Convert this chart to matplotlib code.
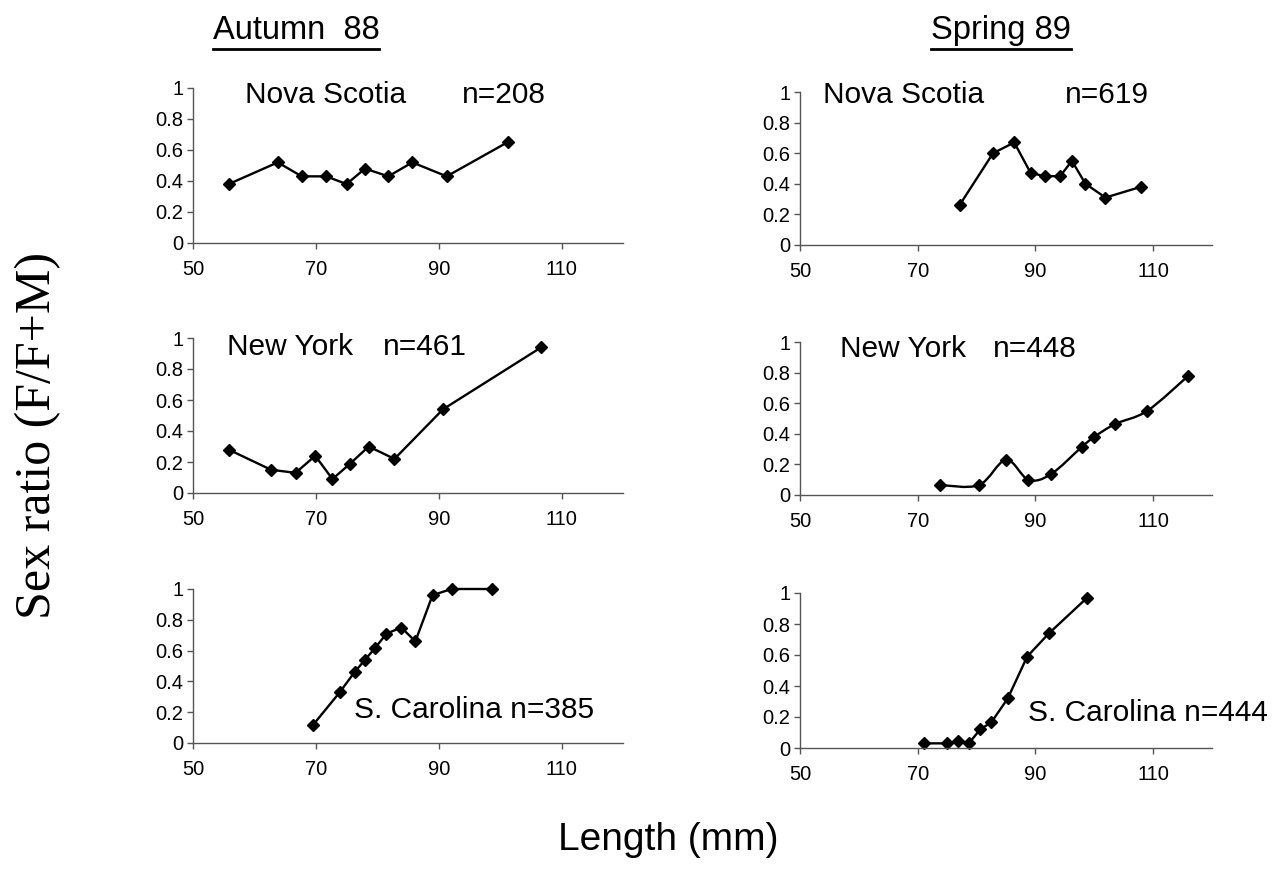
import matplotlib
matplotlib.use("Agg")
import matplotlib.pyplot as plt
from matplotlib.path import Path
from matplotlib.patches import PathPatch
from matplotlib.lines import Line2D
from matplotlib.ticker import FuncFormatter

plt.rcParams['font.family'] = ['Liberation Sans', 'DejaVu Sans']

# length (mm) and sex ratio F/(F+M) per site and season
aut_ns_len = [55.8, 63.8, 67.7, 71.7, 75.0, 78.0, 81.8, 85.7, 91.3, 101.2]
aut_ns_ratio = [0.38, 0.52, 0.43, 0.43, 0.38, 0.48, 0.43, 0.52, 0.43, 0.65]

spr_ns_len = [77.1, 82.8, 86.4, 89.2, 91.6, 94.2, 96.2, 98.5, 101.9, 107.9]
spr_ns_ratio = [0.26, 0.60, 0.67, 0.47, 0.45, 0.45, 0.55, 0.40, 0.31, 0.38]

aut_ny_len = [55.8, 62.7, 66.7, 69.9, 72.7, 75.6, 78.6, 82.8, 90.7, 106.7]
aut_ny_ratio = [0.28, 0.15, 0.13, 0.24, 0.09, 0.19, 0.30, 0.22, 0.54, 0.94]

spr_ny_len = [73.8, 80.4, 85.0, 88.8, 92.6, 97.9, 100.0, 103.6, 109.0, 116.0]
spr_ny_ratio = [0.065, 0.065, 0.23, 0.10, 0.135, 0.315, 0.38, 0.465, 0.55, 0.78]

aut_sc_len = [69.6, 73.9, 76.3, 78.0, 79.7, 81.5, 83.9, 86.2, 89.0, 92.1, 98.6]
aut_sc_ratio = [0.12, 0.33, 0.46, 0.54, 0.62, 0.71, 0.75, 0.66, 0.96, 1.0, 1.0]

spr_sc_len = [71.0, 75.0, 76.9, 78.7, 80.6, 82.5, 85.3, 88.6, 92.3, 98.8]
spr_sc_ratio = [0.03, 0.03, 0.045, 0.03, 0.12, 0.165, 0.32, 0.59, 0.74, 0.97]

x_ticks = [50, 70, 90, 110]
y_ticks = [0, 0.2, 0.4, 0.6, 0.8, 1]

W, H = 1280, 877
fig = plt.figure(figsize=(W / 100, H / 100), dpi=100)


def px_axes(left, top, right, bottom):
    # axes placed by pixel edges
    return fig.add_axes([left / W, 1 - bottom / H, (right - left) / W, (bottom - top) / H])


def smooth_line(ax, x, y):
    # bezier curve through the points (spreadsheet-style smoothed line)
    verts = [(x[0], y[0])]
    codes = [Path.MOVETO]
    n = len(x)
    for i in range(n - 1):
        x0, y0 = (x[i - 1], y[i - 1]) if i > 0 else (x[i], y[i])
        x3, y3 = (x[i + 2], y[i + 2]) if i + 2 < n else (x[i + 1], y[i + 1])
        c1 = (x[i] + (x[i + 1] - x0) / 6, y[i] + (y[i + 1] - y0) / 6)
        c2 = (x[i + 1] - (x3 - x[i]) / 6, y[i + 1] - (y3 - y[i]) / 6)
        verts += [c1, c2, (x[i + 1], y[i + 1])]
        codes += [Path.CURVE4] * 3
    ax.add_patch(PathPatch(Path(verts, codes), fill=False, lw=1.7, ec='black',
                           clip_on=False))


def panel(ax, x, y, smooth=False):
    if smooth:
        smooth_line(ax, x, y)
        ax.plot(x, y, ls='none', marker='D', ms=6.5, color='black', clip_on=False)
    else:
        ax.plot(x, y, '-', lw=1.7, marker='D', ms=6.5, color='black', clip_on=False)
    ax.set_xlim(50, 120)
    ax.set_ylim(0, 1)
    ax.set_xticks(x_ticks)
    ax.set_yticks(y_ticks)
    ax.yaxis.set_major_formatter(FuncFormatter(lambda v, p: f"{v:g}"))
    for s in ['top', 'right']:
        ax.spines[s].set_visible(False)
    for s in ['left', 'bottom']:
        ax.spines[s].set_color('#555555')
        ax.spines[s].set_linewidth(1.0)
    ax.tick_params(direction='out', length=4, width=1, color='#555555',
                   labelsize=14.5, pad=3)
    ax.tick_params(axis='x', pad=8)
    ax.patch.set_alpha(0)


ax1 = px_axes(193, 88, 623, 243)
ax2 = px_axes(800, 92, 1212, 245)
ax3 = px_axes(193, 338, 623, 493)
ax4 = px_axes(800, 342, 1212, 495)
ax5 = px_axes(193, 589, 623, 743)
ax6 = px_axes(800, 593, 1212, 748)

panel(ax1, aut_ns_len, aut_ns_ratio)
panel(ax2, spr_ns_len, spr_ns_ratio)
panel(ax3, aut_ny_len, aut_ny_ratio)
panel(ax4, spr_ny_len, spr_ny_ratio, smooth=True)
panel(ax5, aut_sc_len, aut_sc_ratio)
panel(ax6, spr_sc_len, spr_sc_ratio)


def label(x, y, s, size=21.5):
    fig.text(x / W, 1 - y / H, s, fontsize=size, va='baseline', ha='left')


label(245, 103, "Nova Scotia")
label(462, 103, "n=208")
label(823, 103, "Nova Scotia")
label(1065, 103, "n=619")
label(227, 355, "New York")
label(383, 355, "n=461")
label(840, 357, "New York")
label(993, 357, "n=448")
label(354, 718, "S. Carolina n=385")
label(1028, 721, "S. Carolina n=444")

# column headings, underlined
titles = []
titles.append(fig.text(296 / W, 1 - 39 / H, "Autumn  88", fontsize=23.5,
                       ha='center', va='baseline'))
titles.append(fig.text(1001 / W, 1 - 39 / H, "Spring 89", fontsize=23.5,
                       ha='center', va='baseline'))
fig.canvas.draw()
r = fig.canvas.get_renderer()
for t in titles:
    bb = t.get_window_extent(r)
    yline = 1 - 49 / H
    fig.add_artist(Line2D([bb.x0 / W, bb.x1 / W], [yline, yline],
                          transform=fig.transFigure, color='black', lw=2))

fig.text(38 / W, 1 - 435 / H, "Sex ratio (F/F+M)", rotation=90,
         fontsize=36, family=['Liberation Serif', 'DejaVu Serif'],
         ha='center', va='center')
fig.text(668 / W, 1 - 840 / H, "Length (mm)", fontsize=28,
         ha='center', va='center')

fig.savefig("out.png", dpi=100, facecolor='white')
